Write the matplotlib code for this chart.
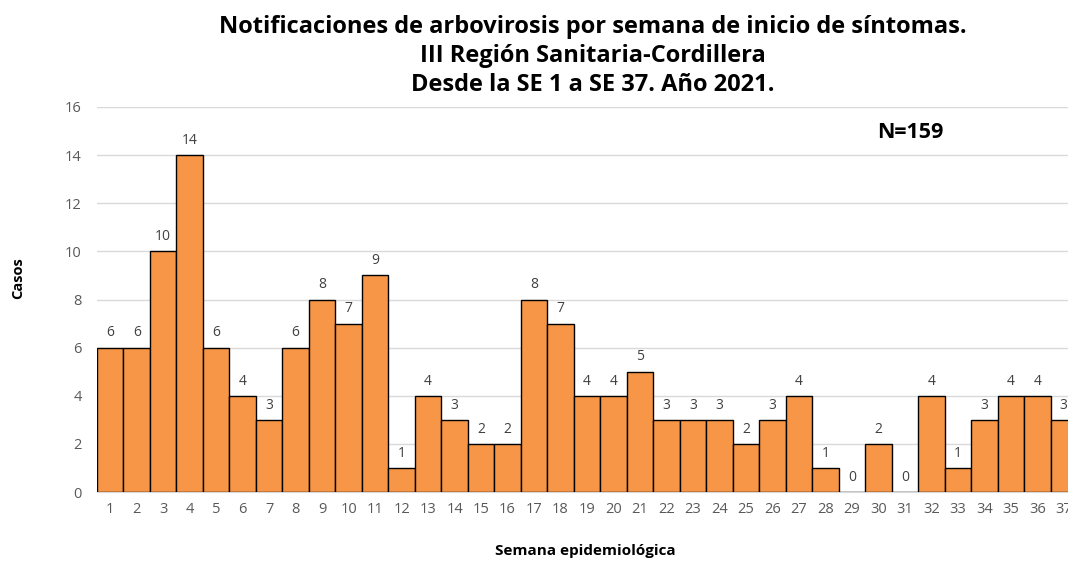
import numpy as np
import matplotlib.pyplot as plt

plt.rcParams['font.family'] = ['Open Sans', 'DejaVu Sans']

# === datos ===
semanas = list(range(1, 38))
casos = [6, 6, 10, 14, 6, 4, 3, 6, 8, 7, 9, 1, 4, 3, 2, 2, 8, 7, 4, 4,
         5, 3, 3, 3, 2, 3, 4, 1, 0, 2, 0, 4, 1, 3, 4, 4, 3]
yticks = [0, 2, 4, 6, 8, 10, 12, 14, 16]

titulo = ("Notificaciones de arbovirosis por semana de inicio de síntomas.\n"
          "III Región Sanitaria-Cordillera\n"
          "Desde la SE 1 a SE 37. Año 2021.")

fig = plt.figure(figsize=(10.68, 5.61), dpi=100)
ax = fig.add_axes([97 / 1068, 69 / 561, 980 / 1068, 385 / 561])

bars = ax.bar(semanas, casos, width=1.0, color='#F79646',
              edgecolor='black', linewidth=1.0, zorder=3)

for x, v in zip(semanas, casos):
    ax.text(x, v + 0.3, str(v), ha='center', va='bottom',
            fontsize=10, color='#404040', zorder=4)

ax.set_xlim(0.5, 37.5)
ax.set_ylim(0, 16)
ax.set_yticks(yticks)
ax.set_xticks(semanas)
ax.grid(axis='y', color='#d9d9d9', linewidth=1, zorder=0)
for s in ['top', 'right', 'left']:
    ax.spines[s].set_visible(False)
ax.spines['bottom'].set_color('#d9d9d9')
ax.tick_params(axis='both', length=0, labelsize=10.5, labelcolor='#595959')
ax.tick_params(axis='x', pad=7)
ax.tick_params(axis='y', pad=11)

fig.text(18 / 1068, 1 - 278 / 561, 'Casos', rotation=90, ha='center',
         va='center', fontsize=10.5, fontweight='bold')
fig.text(585 / 1068, 1 - 551 / 561, 'Semana epidemiológica', ha='center',
         va='center', fontsize=11, fontweight='bold')
fig.text(593 / 1068, 1 - 56 / 561, titulo, ha='center', va='center',
         fontsize=17, fontweight='bold', linespacing=1.27)
fig.text(910 / 1068, 1 - 132 / 561, 'N=159', ha='center', va='center',
         fontsize=15.5, fontweight='bold')

fig.savefig('out.png', dpi=100)
